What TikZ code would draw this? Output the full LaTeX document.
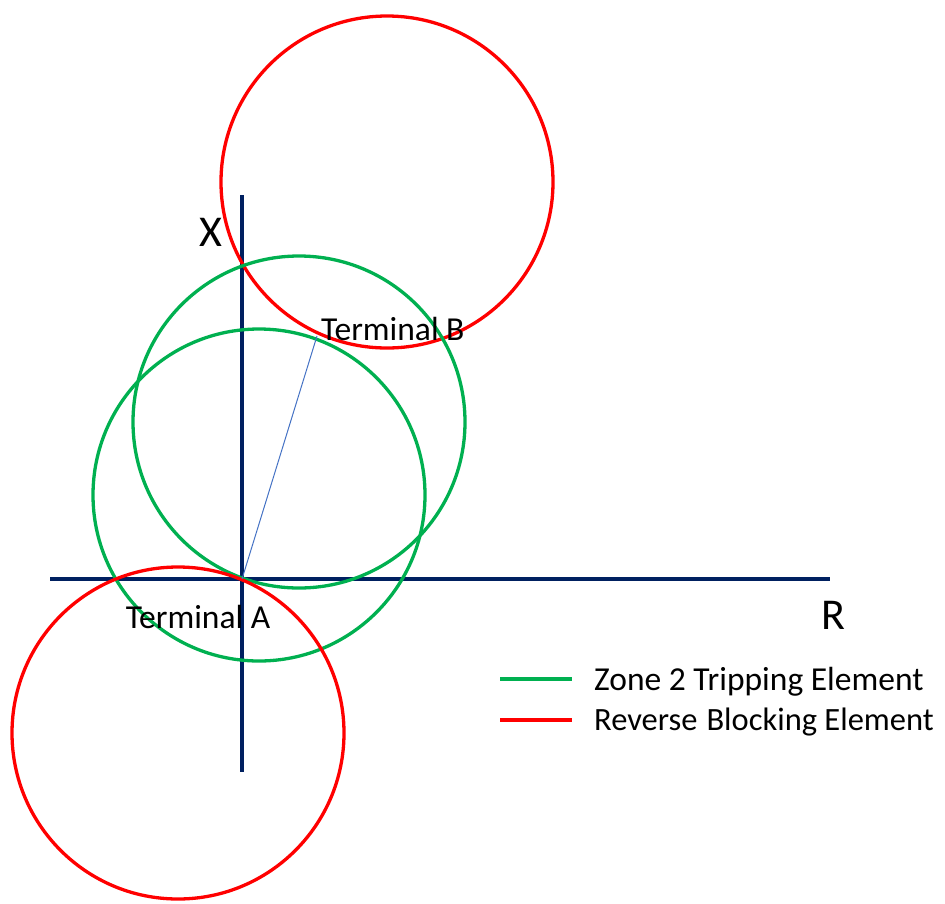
\documentclass[tikz,border=0pt]{standalone}
\usepackage{fontspec}
\setmainfont{Carlito}
\definecolor{zgreen}{RGB}{0,176,80}
\definecolor{rred}{RGB}{255,0,0}
\definecolor{axisblue}{RGB}{0,32,96}
\definecolor{thinblue}{RGB}{68,114,196}
\begin{document}
\begin{tikzpicture}[x=1pt,y=-1pt,
  axisline/.style={draw=axisblue,line width=3.2pt},
  greencirc/.style={draw=zgreen,line width=3.3pt},
  redcirc/.style={draw=rred,line width=3.3pt},
  lbl/.style={font=\fontsize{33.5}{36}\selectfont,inner sep=0pt,text=black},
  axlbl/.style={font=\fontsize{44}{48}\selectfont,inner sep=0pt,text=black}]
\useasboundingbox (0,0) rectangle (945,903);
% axes
\coordinate (xl) at (50,579);
\coordinate (xr) at (830,579);
\coordinate (yt) at (242,195);
\coordinate (yb) at (242,772);
\coordinate (A) at (242,579);
\coordinate (B) at (317,336);
\draw[axisline] (xl) -- (xr);
\draw[axisline] (yt) -- (yb);
% circles
\coordinate (c1) at (387,182);
\coordinate (c2) at (299,422);
\coordinate (c3) at (259,495);
\coordinate (c4) at (178,733);
\draw[redcirc] (c1) circle[radius=166pt];
\draw[greencirc] (c2) circle[radius=166pt];
\draw[greencirc] (c3) circle[radius=166pt];
\draw[redcirc] (c4) circle[radius=166pt];
% line A-B
\draw[draw=thinblue,line width=1pt] (A) -- (B);
% labels
\node[axlbl] (lx) at (211,232) {X};
\node[axlbl] (lr) at (833,615) {R};
\node[lbl,anchor=west] (tb) at (321,329) {Terminal B};
\node[lbl] (ta) at (198,617) {Terminal A};
% legend
\coordinate (g1) at (500,679);
\coordinate (g2) at (572,679);
\coordinate (r1) at (500,720);
\coordinate (r2) at (572,720);
\draw[draw=zgreen,line width=3.5pt] (g1) -- (g2);
\draw[draw=rred,line width=3.5pt] (r1) -- (r2);
\node[lbl,anchor=west] (lg) at (594,682) {Zone 2 Tripping Element};
\node[lbl,anchor=west,font=\fontsize{32.5}{36}\selectfont] (lrb) at (594,722) {Reverse\hspace{9pt}Blocking Element};
\end{tikzpicture}
\end{document}
